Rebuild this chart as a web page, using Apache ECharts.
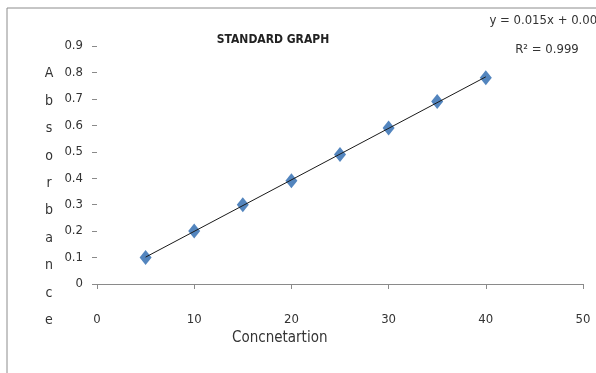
<!DOCTYPE html>
<html>
<head>
<meta charset="utf-8">
<script src="https://cdn.jsdelivr.net/npm/echarts@6/dist/echarts.min.js"></script>
<style>
  html, body { margin: 0; padding: 0; background: #fff; }
  #chart { width: 596px; height: 373px; }
</style>
</head>
<body>
<div id="chart"></div>
<script>
// Standard curve: absorbance against concentration
const concentration = [5, 10, 15, 20, 25, 30, 35, 40];
const absorbance = [0.10, 0.20, 0.30, 0.39, 0.49, 0.59, 0.69, 0.78];
const xTicks = [0, 10, 20, 30, 40, 50];
const yTicks = [0, 0.1, 0.2, 0.3, 0.4, 0.5, 0.6, 0.7, 0.8, 0.9];
const equationText = 'y = 0.015x + 0.001';
const rSquaredText = 'R² = 0.999';
const yAxisTitle = 'Absorbance';

const FONT = "'DejaVu Sans Condensed', 'Liberation Sans Narrow', 'Liberation Sans', sans-serif";

// Least-squares trendline across the measured range
function linearFit(xs, ys) {
  const n = xs.length;
  let sx = 0, sy = 0, sxx = 0, sxy = 0;
  for (let i = 0; i < n; i++) {
    sx += xs[i]; sy += ys[i];
    sxx += xs[i] * xs[i]; sxy += xs[i] * ys[i];
  }
  const slope = (n * sxy - sx * sy) / (n * sxx - sx * sx);
  const intercept = (sy - slope * sx) / n;
  return { slope, intercept };
}
const fit = linearFit(concentration, absorbance);
const xMin = Math.min(...concentration), xMax = Math.max(...concentration);
const trendPoints = [
  [xMin, fit.slope * xMin + fit.intercept],
  [xMax, fit.slope * xMax + fit.intercept]
];

const chart = echarts.init(document.getElementById('chart'));
chart.setOption({
  backgroundColor: '#fff',
  animation: false,
  graphic: [{
    type: 'rect',
    shape: { x: 7, y: 8, width: 620, height: 400 },
    style: { fill: 'none', stroke: '#8c8c8c', lineWidth: 1 },
    silent: true
  }],
  title: [
    {
      text: 'STANDARD GRAPH',
      left: 268, top: 29, textAlign: 'center',
      textStyle: { fontFamily: FONT, fontSize: 12, fontWeight: 'bold', color: '#222' }
    },
    {
      text: equationText + '\n' + rSquaredText,
      left: 542, top: 1, textAlign: 'center',
      textStyle: { fontFamily: FONT, fontSize: 13, fontWeight: 'normal', color: '#333', lineHeight: 29 }
    },
    {
      text: yAxisTitle.split('').join('\n'),
      left: 44, top: 55, textAlign: 'center',
      textStyle: { fontFamily: FONT, fontSize: 14, fontWeight: 'normal', color: '#333', lineHeight: 27.4 }
    }
  ],
  grid: { left: 97, right: 13, top: 46, bottom: 89 },
  xAxis: {
    type: 'value',
    min: xTicks[0], max: xTicks[xTicks.length - 1], interval: 10,
    name: 'Concnetartion',
    nameLocation: 'start',
    nameGap: 0,
    nameTextStyle: { fontFamily: FONT, fontSize: 15, color: '#333', align: 'left', verticalAlign: 'top', padding: [47, 0, 0, 135] },
    splitLine: { show: false },
    axisLine: { show: true, onZero: false, lineStyle: { color: '#8a8a8a', width: 1 } },
    axisTick: { show: true, length: 5, lineStyle: { color: '#8a8a8a' } },
    axisLabel: { margin: 29, fontFamily: FONT, fontSize: 13, color: '#333' }
  },
  yAxis: {
    type: 'value',
    min: yTicks[0], max: yTicks[yTicks.length - 1], interval: 0.1,
    splitLine: { show: false },
    axisLine: { show: false },
    axisTick: { show: true, length: 5, lineStyle: { color: '#8a8a8a' } },
    axisLabel: { margin: 14, fontFamily: FONT, fontSize: 13, color: '#333',
      formatter: v => String(Math.round(v * 10) / 10) }
  },
  series: [
    {
      type: 'scatter',
      data: concentration.map((c, i) => [c, absorbance[i]]),
      symbol: 'diamond',
      symbolSize: [12, 15],
      itemStyle: { color: '#4a7ebb', opacity: 0.95 },
      z: 2
    },
    {
      type: 'line',
      data: trendPoints,
      symbol: 'none',
      lineStyle: { color: '#1a1a1a', width: 1 },
      z: 3
    }
  ]
});
</script>
</body>
</html>
